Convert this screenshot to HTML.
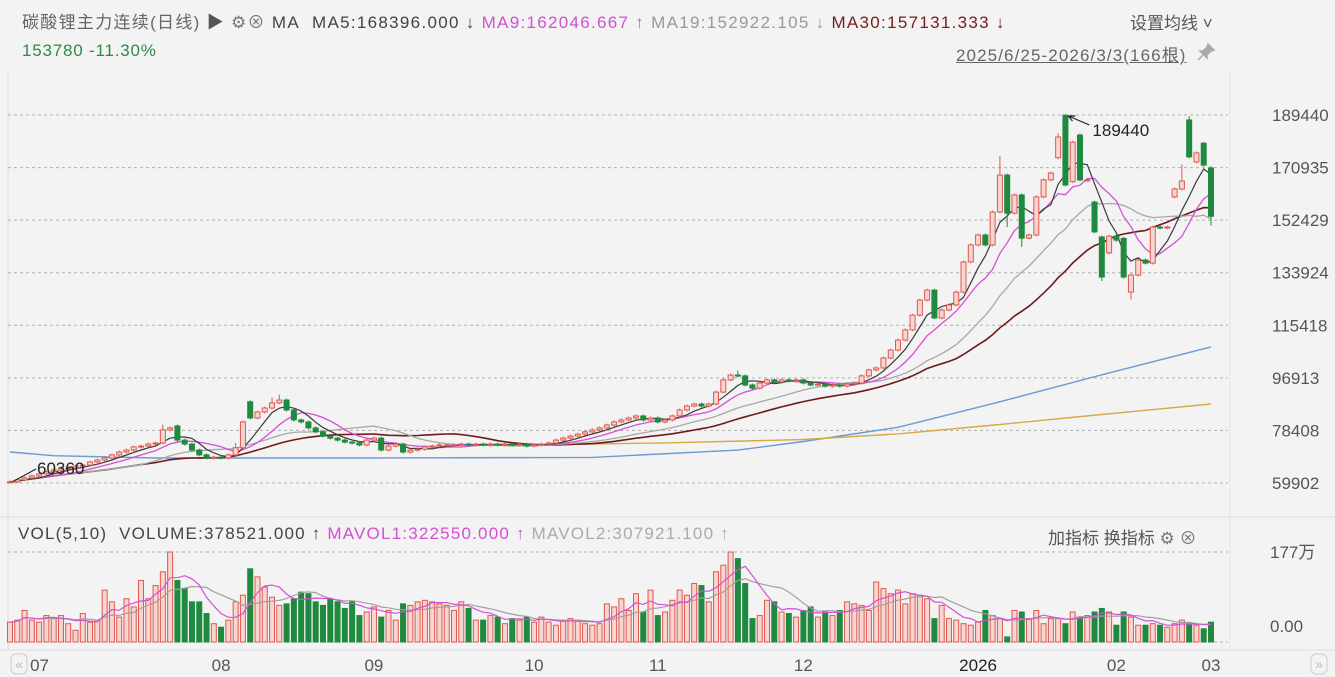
<!DOCTYPE html>
<html><head><meta charset="utf-8">
<style>
body{margin:0;width:1335px;height:677px;background:#f3f3f3;overflow:hidden;font-family:"Liberation Sans","Noto Sans CJK SC",sans-serif;}
#wrap{position:relative;width:1335px;height:677px;}
.t{position:absolute;white-space:nowrap;font-size:17px;color:#555;}
svg{position:absolute;left:0;top:0;}
</style></head><body>
<div id="wrap">
<div class="t" style="left:22px;top:8px;letter-spacing:1.3px;"><span style="color:#666">碳酸锂主力连续(日线)</span> <span style="color:#555">▶</span> <span style="color:#777">⚙</span><span style="color:#777">⊗</span> <span style="color:#444">MA&nbsp; MA5:168396.000 ↓</span> <span style="color:#d34fd3">MA9:162046.667 ↑</span> <span style="color:#999">MA19:152922.105 ↓</span> <span style="color:#7a1c1c">MA30:157131.333 ↓</span></div>
<div class="t" style="left:1130px;top:9px;color:#555;font-size:17px;">设置均线 ˅</div>
<div class="t" style="left:22px;top:41px;color:#2e8b45;font-size:17px;letter-spacing:0.8px;">153780 -11.30%</div>
<div class="t" style="left:956px;top:41px;color:#666;font-size:17px;letter-spacing:1.1px;text-decoration:underline;">2025/6/25-2026/3/3(166根)</div>
<svg style="left:1196px;top:42px;" width="20" height="20" viewBox="0 0 20 20"><path d="M12 2 L18 8 L15 9 L11 13 L11 16 L4 9 L7 9 L11 5 Z M7 13 L2 18" fill="#aaa" stroke="#aaa" stroke-width="1.5"/></svg>
<div class="t" style="left:18px;top:524px;font-size:17px;letter-spacing:1.2px;"><span style="color:#444">VOL(5,10)&nbsp; VOLUME:378521.000 ↑</span> <span style="color:#d34fd3">MAVOL1:322550.000 ↑</span> <span style="color:#aaa">MAVOL2:307921.100 ↑</span></div>
<div class="t" style="left:1048px;top:524px;font-size:17px;color:#555;"><span>加指标</span> <span>换指标</span> <span style="color:#777">⚙</span> <span style="color:#777">⊗</span></div>
<svg id="c" width="1335" height="677"></svg>
</div>
<script>
const closes=[60.3,61.0,61.7,62.4,63.1,63.8,64.5,65.2,65.2,65.9,
66.2,67.3,68.0,68.7,69.8,70.8,71.5,72.6,72.9,73.6,
74.0,78.6,79.3,75.0,73.6,71.5,69.8,68.7,69.0,68.7,
69.8,72.3,81.4,82.8,84.9,86.3,88.1,89.1,85.6,82.1,
81.4,79.3,77.9,76.4,75.7,75.0,74.3,74.0,73.3,75.0,
75.7,71.5,72.9,73.6,70.8,71.5,71.8,72.6,72.9,73.3,
73.3,73.3,73.6,73.3,73.6,73.3,73.6,73.3,73.6,73.3,
73.6,72.9,73.3,73.6,74.0,75.0,75.7,76.4,77.1,77.9,
78.6,79.3,80.3,81.4,82.1,82.8,83.5,82.1,82.8,81.4,
82.1,83.5,85.6,87.0,87.7,87.0,87.7,91.9,96.2,97.9,
97.6,94.4,93.3,95.1,96.2,95.5,96.2,95.8,96.2,95.1,
94.4,94.7,94.0,94.4,94.0,94.7,95.1,97.6,99.7,100.4,
103.9,106.7,110.2,113.8,119.0,124.3,127.8,118.0,120.8,122.6,
127.1,137.7,143.7,147.2,143.7,155.3,168.3,154.9,161.3,146.1,
147.2,160.6,166.6,169.0,181.7,164.8,179.9,166.6,166.6,148.3,
132.4,146.8,145.4,132.4,133.1,138.4,137.3,150.0,149.7,150.0,
163.4,166.2,174.7,176.1,171.8,153.78];
const openOverrides={0:60.0,23:80.0,33:88.5,144:174.4,145:189.4,146:166.0,147:182.4,149:158.8,150:146.5,151:140.9,153:146.0,154:127.1,157:137.3,160:160.6,162:187.7,163:172.9,164:179.5,165:170.8};
const highOverrides={21:80.5,31:74,36:90,37:91,100:99.5,136:175,144:183,145:189.4,161:172,162:189,165:171.5};
const lowOverrides={0:59.9,150:131,154:124.5,165:150.5,139:143,137:150};
const volumes=[39,43,62,43,39,52,46,52,36,23,56,39,43,102,79,49,85,69,121,85,111,138,177,121,105,79,79,56,36,29,43,79,92,144,128,108,88,72,75,85,98,95,79,72,85,79,66,79,52,59,69,49,62,43,75,72,79,82,79,75,72,62,79,66,43,43,52,49,36,46,43,49,39,49,39,33,43,46,43,36,33,36,
75,69,85,62,95,59,102,52,59,82,102,92,115,111,79,138,151,177,164,115,46,52,82,79,59,56,49,62,69,49,59,52,62,79,75,72,62,118,105,95,102,75,95,92,85,46,72,46,43,36,33,39,62,52,46,10,62,59,46,62,36,46,46,36,59,49,52,59,66,59,33,59,49,33,33,36,33,29,36,43,36,33,26,39];
const blueIdx=[0,6,20,50,80,100,109,122,136,150,165];
const blueVal=[70.8,69.5,68.7,68.7,68.9,71.5,74.5,79.5,88.5,98.0,107.8];
const goldIdx=[72,90,109,122,136,150,165];
const goldVal=[73.3,74.0,75.2,77.2,80.5,84.0,87.7];
const priceTicks=[189440,170935,152429,133924,115418,96913,78408,59902];
const volTicks=["177万","0.00"];
const monthLabels=["07","08","09","10","11","12","2026","02","03"];
const monthIdx=[2,29,50,72,89,109,133,152,165];

const svg=document.getElementById('c');const NS='http://www.w3.org/2000/svg';
function mk(tag,attrs,parent){const e=document.createElementNS(NS,tag);for(const k in attrs)e.setAttribute(k,attrs[k]);(parent||svg).appendChild(e);return e;}
const N=closes.length;
const xS=i=>10+i*(1201/(N-1));
const yP=p=>483-(p-59.902)*(368/(189.440-59.902));
const yV=v=>642-v*(90/177);
let e=mk('line',{x1:8,y1:70,x2:8,y2:650,stroke:'#ddd'});
e=mk('line',{x1:1230,y1:70,x2:1230,y2:650,stroke:'#e4e4e4'});
e=mk('line',{x1:0,y1:517,x2:1335,y2:517,stroke:'#ddd'});
e=mk('line',{x1:0,y1:650,x2:1335,y2:650,stroke:'#ddd'});
priceTicks.forEach(t=>{const y=yP(t/1000);
 let g=mk('line',{x1:8,y1:y,x2:1228,y2:y,stroke:'#b0b0b0','stroke-dasharray':'3,3'});
 
 let tx=mk('text',{x:1272,y:y+6,'font-size':17,fill:'#555'});tx.textContent=t;
 });
[[552,0],[626,1]].forEach(([y,k])=>{
 let g=mk('line',{x1:8,y1:[552,642][k],x2:1228,y2:[552,642][k],stroke:'#b0b0b0','stroke-dasharray':'3,3'});
 
 let tx=mk('text',{x:1270,y:y+6,'font-size':17,fill:'#555'});tx.textContent=volTicks[k];
 });
monthLabels.forEach((m,k)=>{const x=xS(monthIdx[k])+(k===0?15:0);
 let tx=mk('text',{x:x,y:671,'font-size':17,fill:m==='2026'?'#222':'#555','text-anchor':'middle'});tx.textContent=m;
 });
[[18,'«'],[1318,'»']].forEach(([x,s],k)=>{
 let r=mk('rect',{x:x-7,y:654,width:16,height:20,rx:5,fill:'#f3f3f3',stroke:'#ccc'});
 
 let t=mk('text',{x:x+1,y:669,'font-size':14,fill:'#bbb','text-anchor':'middle'});t.textContent=s;});
const opens=closes.map((c,i)=>openOverrides[i]!==undefined?openOverrides[i]:(i?closes[i-1]:c));
function ma(arr,n){return arr.map((_,i)=>{const s=Math.max(0,i-n+1);let t=0;for(let j=s;j<=i;j++)t+=arr[j];return t/(i-s+1);});}
function line(vals,xs,yf,color,name,w){const d=vals.map((v,k)=>(k?'L':'M')+xs(k).toFixed(1)+','+yf(v).toFixed(1)).join('');
 const p=mk('path',{d:d,fill:'none',stroke:color,'stroke-width':w||1.3});}
line(blueVal,k=>xS(blueIdx[k]),yP,'#6b9bd2','ma60-line',1.4);
line(goldVal,k=>xS(goldIdx[k]),yP,'#d9a845','ma120-line',1.4);
line(ma(closes,30),xS,yP,'#6e1a1a','ma30-line',1.6);
line(ma(closes,19),xS,yP,'#a8a8a8','ma19-line',1.3);
line(ma(closes,9),xS,yP,'#d64fd6','ma9-line',1.3);
line(ma(closes,5),xS,yP,'#3a3a3a','ma5-line',1.2);
for(let i=0;i<N;i++){const o=opens[i],c=closes[i],up=c>=o;const x=xS(i);
 const hi=highOverrides[i]!==undefined?highOverrides[i]:Math.max(o,c)+0.5;
 const lo=lowOverrides[i]!==undefined?lowOverrides[i]:Math.min(o,c)-0.5;
 const col=up?'#e0574e':'#1f8a3f';
 const g=mk('g',{});
 mk('line',{x1:x,y1:yP(hi),x2:x,y2:yP(lo),stroke:col,'stroke-width':1},g);
 const yt=yP(Math.max(o,c)),yb=yP(Math.min(o,c));
 mk('rect',{x:x-2.5,y:yt,width:5,height:Math.max(1,yb-yt),fill:up?'#f7d6d2':col,stroke:col,'stroke-width':1},g);
 const vy=yV(volumes[i]);
 const b=mk('rect',{x:x-2.5,y:vy,width:5,height:642-vy,fill:up?'#f7d6d2':col,stroke:col,'stroke-width':1});
 }
line(ma(volumes,10),xS,yV,'#a0a0a0','mavol2-line',1.2);
line(ma(volumes,5),xS,yV,'#d64fd6','mavol1-line',1.2);
const hx=xS(145),hy=yP(189.44);
let a=mk('path',{d:`M${hx+24},${hy+10} L${hx+3},${hy+1} M${hx+3},${hy+1} l7,0 M${hx+3},${hy+1} l4,5`,stroke:'#222',fill:'none','stroke-width':1.2});

let at=mk('text',{x:hx+27,y:hy+21,'font-size':17,fill:'#222'});at.textContent='189440';

let lt=mk('text',{x:37,y:474,'font-size':17,fill:'#222'});lt.textContent='60360';

mk('line',{x1:14,y1:481,x2:36,y2:469,stroke:'#222','stroke-width':1});
</script>
</body></html>
